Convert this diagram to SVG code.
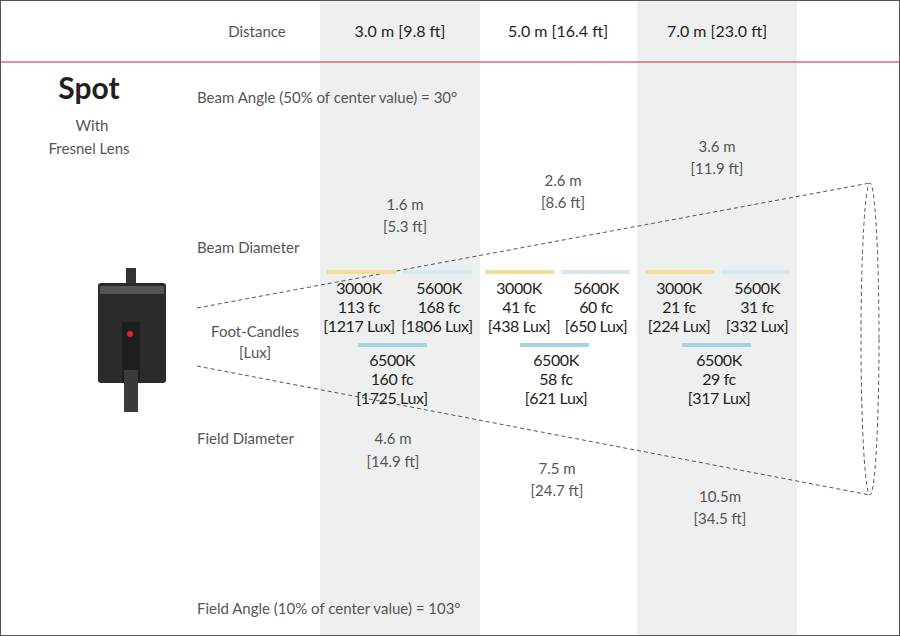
<svg xmlns="http://www.w3.org/2000/svg" width="900" height="636" viewBox="0 0 900 636">
<style>
text{font-family:"Lato","Liberation Sans",sans-serif;fill:#3a3a3a;font-size:15px;text-anchor:middle}
.h{fill:#231f20;font-size:16px}
.d{fill:#555}
.l{text-anchor:start}
.v{fill:#231f20;font-size:16px;letter-spacing:-0.4px}
.dash{stroke:#555;stroke-width:1;stroke-dasharray:4 3;fill:none}
</style>
<rect x="0.5" y="0.5" width="899" height="635" fill="#fff" stroke="#555"/>
<rect x="320" y="1" width="160" height="634" fill="#eef0ef"/>
<rect x="637" y="1" width="160" height="634" fill="#eef0ef"/>
<line x1="0" y1="62" x2="900" y2="62" stroke="#c1272d" stroke-width="1.2"/>
<g id="header">
<text x="257" y="37" class="d">Distance</text>
<text x="400" y="37" class="h">3.0 m [9.8 ft]</text>
<text x="558" y="37" class="h">5.0 m [16.4 ft]</text>
<text x="717" y="37" class="h">7.0 m [23.0 ft]</text>
</g>
<g id="title">
<text x="89" y="99" style="font-size:30px;font-weight:bold;fill:#231f20">Spot</text>
<text x="92" y="131" class="d">With</text>
<text x="89" y="154" class="d">Fresnel Lens</text>
</g>
<g id="labels">
<text x="197" y="103" class="l d">Beam Angle (50% of center value) = 30°</text>
<text x="197" y="253" class="l d">Beam Diameter</text>
<text x="255" y="337" class="d">Foot-Candles</text>
<text x="255" y="358" class="d">[Lux]</text>
<text x="197" y="444" class="l d">Field Diameter</text>
<text x="197" y="614" class="l d">Field Angle (10% of center value) = 103°</text>
</g>
<g id="fixture">
<rect x="126" y="268" width="10" height="18" fill="#333"/>
<rect x="98" y="283" width="68" height="100" rx="3" fill="#2b2b2b"/>
<rect x="100" y="286" width="64" height="8" fill="#555"/>
<rect x="122" y="322" width="18" height="60" fill="#1e1e1e"/>
<circle cx="130" cy="334" r="3" fill="#d22"/>
<rect x="124" y="370" width="14" height="42" fill="#3a3a3a"/>
</g>
<g id="connectors">
<line class="dash" x1="197" y1="308" x2="870" y2="183"/>
<line class="dash" x1="197" y1="366" x2="870" y2="495"/>
<ellipse class="dash" cx="870" cy="339" rx="9" ry="156"/>
</g>
<g id="diameters">
<text x="405" y="210" class="d">1.6 m</text><text x="405" y="232" class="d">[5.3 ft]</text>
<text x="563" y="186" class="d">2.6 m</text><text x="563" y="208" class="d">[8.6 ft]</text>
<text x="717" y="152" class="d">3.6 m</text><text x="717" y="174" class="d">[11.9 ft]</text>
<text x="393" y="444" class="d">4.6 m</text><text x="393" y="467" class="d">[14.9 ft]</text>
<text x="557" y="474" class="d">7.5 m</text><text x="557" y="496" class="d">[24.7 ft]</text>
<text x="720" y="502" class="d">10.5m</text><text x="720" y="524" class="d">[34.5 ft]</text>
</g>
<g id="col1">
<rect x="327" y="270" width="69" height="4" fill="#f5dc96"/>
<rect x="403" y="270" width="69" height="4" fill="#d4e9ee"/>
<rect x="358" y="343" width="69" height="4" fill="#a6d3e2"/>
<text x="359" y="294" class="v">3000K</text><text x="359" y="313" class="v">113 fc</text><text x="359" y="332" class="v">[1217 Lux]</text>
<text x="439" y="294" class="v">5600K</text><text x="439" y="313" class="v">168 fc</text><text x="437" y="332" class="v">[1806 Lux]</text>
<text x="392" y="366" class="v">6500K</text><text x="392" y="385" class="v">160 fc</text><text x="392" y="404" class="v">[1725 Lux]</text>
</g>
<g id="col2">
<rect x="485" y="270" width="69" height="4" fill="#f5dc96"/>
<rect x="561" y="270" width="69" height="4" fill="#d4e9ee"/>
<rect x="520" y="343" width="69" height="4" fill="#a6d3e2"/>
<text x="519" y="294" class="v">3000K</text><text x="519" y="313" class="v">41 fc</text><text x="519" y="332" class="v">[438 Lux]</text>
<text x="596" y="294" class="v">5600K</text><text x="596" y="313" class="v">60 fc</text><text x="596" y="332" class="v">[650 Lux]</text>
<text x="556" y="366" class="v">6500K</text><text x="556" y="385" class="v">58 fc</text><text x="556" y="404" class="v">[621 Lux]</text>
</g>
<g id="col3">
<rect x="645" y="270" width="69" height="4" fill="#f5dc96"/>
<rect x="721" y="270" width="69" height="4" fill="#d4e9ee"/>
<rect x="682" y="343" width="69" height="4" fill="#a6d3e2"/>
<text x="679" y="294" class="v">3000K</text><text x="679" y="313" class="v">21 fc</text><text x="679" y="332" class="v">[224 Lux]</text>
<text x="757" y="294" class="v">5600K</text><text x="757" y="313" class="v">31 fc</text><text x="757" y="332" class="v">[332 Lux]</text>
<text x="719" y="366" class="v">6500K</text><text x="719" y="385" class="v">29 fc</text><text x="719" y="404" class="v">[317 Lux]</text>
</g>
</svg>
